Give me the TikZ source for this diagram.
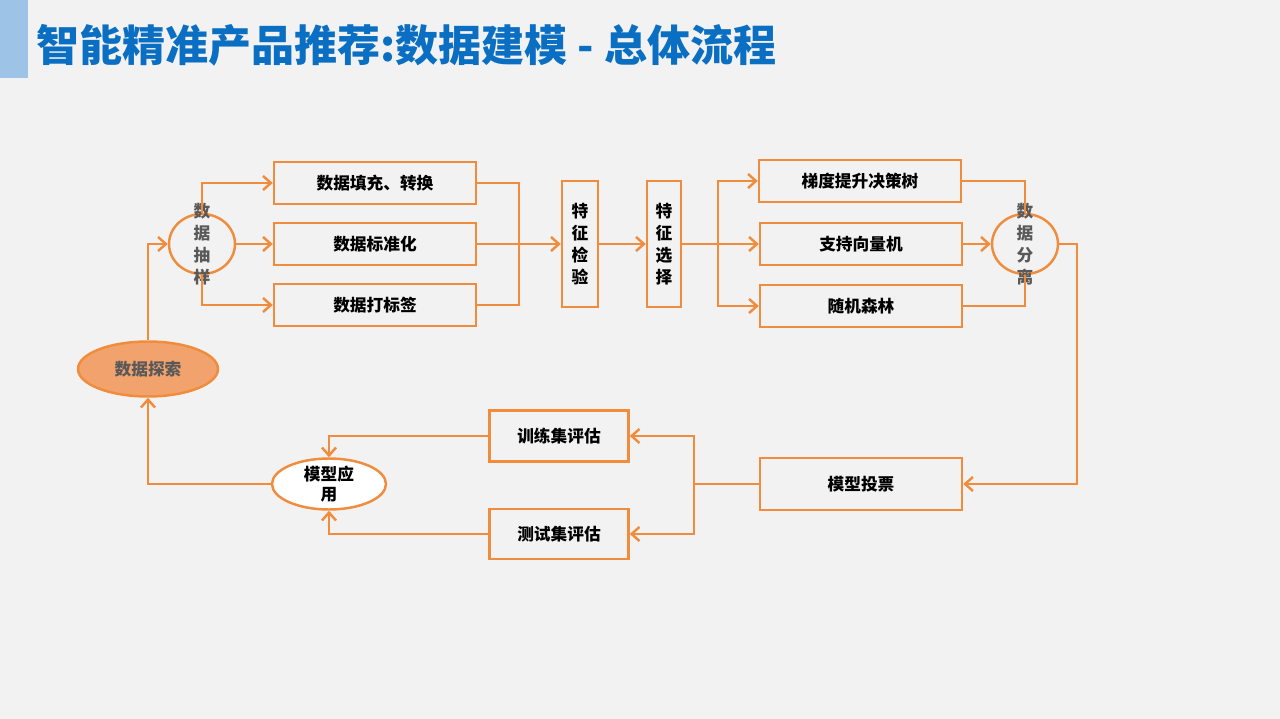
\documentclass[tikz,border=0pt]{standalone}
\usepackage{fontspec}
\setmainfont{Noto Sans CJK SC}
\usetikzlibrary{arrows.meta,shapes.geometric}
\definecolor{flow}{HTML}{F08C3C}
\definecolor{bg}{HTML}{F2F2F2}
\definecolor{ttl}{HTML}{0A6FC2}
\definecolor{bar}{HTML}{9DC3E6}
\definecolor{explorefill}{HTML}{F2A26C}
\definecolor{vgray}{HTML}{595959}

\begin{document}
\begin{tikzpicture}[x=0.02cm, y=-0.02cm,
   every node/.style={font=\fontsize{9.5}{11}\selectfont\bfseries, inner sep=0pt},
   box/.style={draw=flow, line width=1.4pt, minimum width=4.04cm, minimum height=0.84cm},
   tallbox/.style={draw=flow, line width=1.4pt, minimum width=0.72cm, minimum height=2.52cm,
                   align=center, font=\fontsize{9.5}{12.5}\selectfont\bfseries},
   ring/.style={ellipse, draw=flow, line width=1.4pt, minimum width=1.32cm, minimum height=1.2cm},
   vtext/.style={align=center, text=vgray, font=\fontsize{9.5}{12.5}\selectfont\bfseries},
   link/.style={draw=flow, line width=1.4pt},
   go/.style={link, -{Straight Barb[length=4.5pt,width=8pt]}}]

\useasboundingbox[fill=bg] (0,0) rectangle (1280,719);
\fill[bar] (0,0) rectangle (28,78);
\node[anchor=west, text=ttl, font=\fontsize{24.5}{24.5}\selectfont\bfseries] (title) at (36,45)
    {智能精准产品推荐:数据建模 - 总体流程};

% upper row
\node[ellipse, draw=flow, line width=1.4pt, fill=explorefill, minimum width=2.8cm,
      minimum height=1.1cm, text=vgray] (explore) at (148,369) {数据探索};
\node[ring] (samp) at (202,244) {};
\node[vtext] at (samp) {数\\据\\抽\\样};
\node[box] (fill) at (375,183) {数据填充、转换};
\node[box] (std) at (375,244) {数据标准化};
\node[box] (tag) at (375,305) {数据打标签};
\node[tallbox] (check) at (580,244) {特\\征\\检\\验};
\node[tallbox, minimum width=0.68cm] (sel) at (664,244) {特\\征\\选\\择};
\node[box] (gbdt) at (860,181) {梯度提升决策树};
\node[box] (svm) at (861,244) {支持向量机};
\node[box] (rf) at (861,306) {随机森林};
\node[ring] (split) at (1025,244) {};
\node[vtext] at (split) {数\\据\\分\\离};

% lower row
\node[box, minimum height=1.04cm] (vote) at (861,484) {模型投票};
\node[box, minimum width=2.78cm, minimum height=1.02cm] (train) at (559,436) {训练集评估};
\node[box, minimum width=2.78cm, minimum height=1.0cm] (test) at (559,534) {测试集评估};
\node[ellipse, draw=flow, line width=1.4pt, fill=white, minimum width=2.28cm,
      minimum height=1.02cm, align=center] (apply) at (329,484) {模型应\\用};

\coordinate (join1) at (519,244);
\coordinate (fork1) at (718,244);
\coordinate (rside) at (1077,484);
\coordinate (fork2) at (694,484);

\draw[go] (explore.north) |- (samp.west);
\draw[go] (samp.north) |- (fill.west);
\draw[go] (samp.east) -- (std.west);
\draw[go] (samp.south) |- (tag.west);
\draw[link] (fill.east) -| (join1) |- (tag.east);
\draw[go] (std.east) -- (check.west);
\draw[go] (check.east) -- (sel.west);
\draw[go] (sel.east) -- (svm.west);
\draw[go] (fork1) |- (gbdt.west);
\draw[go] (fork1) |- (rf.west);
\draw[link] (gbdt.east) -| (split.north);
\draw[go] (svm.east) -- (split.west);
\draw[link] (rf.east) -| (split.south);
\draw[go] (split.east) -| (rside) -- (vote.east);
\draw[link] (vote.west) -- (fork2);
\draw[go] (fork2) |- (train.east);
\draw[go] (fork2) |- (test.east);
\draw[go] (train.west) -| (apply.north);
\draw[go] (test.west) -| (apply.south);
\draw[go] (apply.west) -| (explore.south);

\end{tikzpicture}
\end{document}
